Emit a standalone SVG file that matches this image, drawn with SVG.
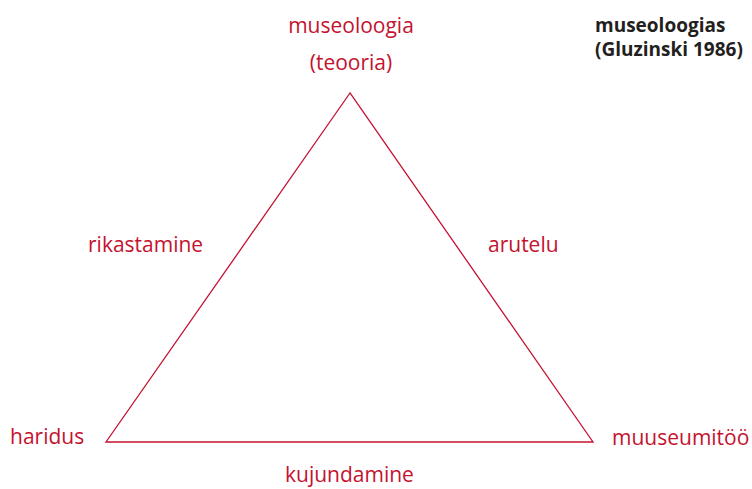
<svg xmlns="http://www.w3.org/2000/svg" width="752" height="489" viewBox="0 0 752 489">
<style>
.lbl{font-family:"Open Sans","Noto Sans",sans-serif;font-size:21px;fill:#c4122f}
.ttl{font-family:"Open Sans","Noto Sans",sans-serif;font-size:19px;font-weight:bold;fill:#231f20}
.edge{fill:none;stroke:#c4122f;stroke-width:1.3}
</style>
<rect width="752" height="489" fill="#fff"/>
<g id="title">
<text class="ttl" x="595" y="32">museoloogias</text>
<text class="ttl" x="595" y="56">(Gluzinski 1986)</text>
</g>
<g id="connectors">
<path class="edge" d="M350,93 L106,442 L593,442 Z"/>
</g>
<g id="node-museoloogia">
<text class="lbl" x="351" y="33" text-anchor="middle">museoloogia</text>
<text class="lbl" x="351" y="70" text-anchor="middle">(teooria)</text>
</g>
<g id="node-haridus"><text class="lbl" x="10" y="444">haridus</text></g>
<g id="node-muuseumitoo"><text class="lbl" x="612" y="445">muuseumitöö</text></g>
<g id="label-rikastamine"><text class="lbl" x="88" y="252">rikastamine</text></g>
<g id="label-arutelu"><text class="lbl" x="488" y="252">arutelu</text></g>
<g id="label-kujundamine"><text class="lbl" x="285" y="482">kujundamine</text></g>
</svg>
